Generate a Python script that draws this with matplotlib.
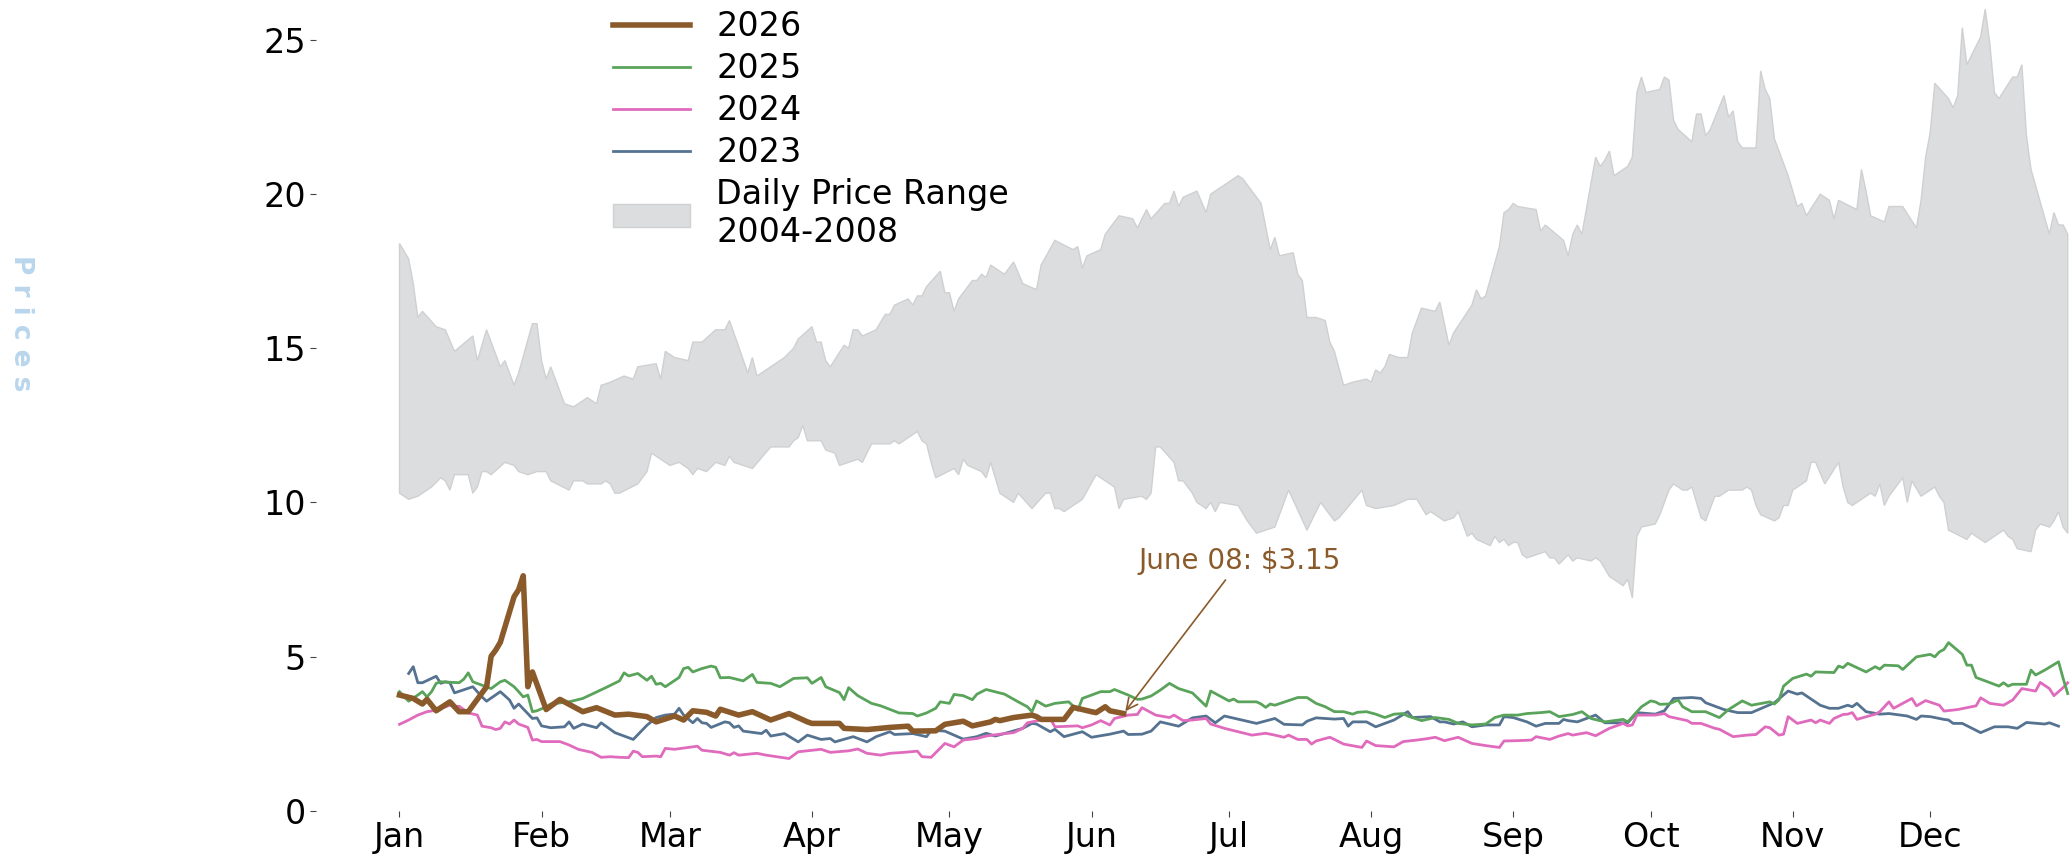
import matplotlib
matplotlib.use("Agg")
import matplotlib.pyplot as plt

# day-of-year (0 = Jan 1) and price readings

month_names = ["Jan", "Feb", "Mar", "Apr", "May", "Jun",
               "Jul", "Aug", "Sep", "Oct", "Nov", "Dec"]
month_starts = [0, 31, 59, 90, 120, 151, 181, 212, 243, 273, 304, 334]

# Daily price range 2004-2008 (upper and lower edge of the band)
band_hi_days = [0, 2, 3, 4, 5, 8, 10, 12, 16, 17, 19, 22, 23, 25, 26, 29, 30, 31, 32, 33,
                36, 38, 41, 43, 44, 46, 49, 51, 52, 56, 57, 58, 60, 63, 64, 66, 69, 71, 72, 76,
                77, 78, 82, 84, 86, 87, 90, 91, 92, 93, 94, 97, 98, 99, 100, 101, 104, 106, 107, 108,
                111, 112, 113, 114, 115, 118, 119, 120, 121, 122, 125, 126, 127, 128, 129, 132, 134, 136, 139, 140,
                143, 147, 148, 149, 150, 153, 154, 157, 160, 161, 163, 164, 167, 168, 169, 170, 171, 174, 176, 177,
                179, 181, 183, 184, 188, 190, 191, 192, 195, 196, 197, 198, 200, 202, 203, 204, 206, 208, 211, 212,
                213, 214, 215, 216, 218, 220, 221, 223, 226, 227, 228, 229, 230, 234, 235, 236, 237, 240, 241, 242,
                243, 244, 248, 249, 250, 254, 255, 256, 257, 258, 261, 262, 263, 264, 265, 268, 269, 270, 271, 272,
                275, 276, 277, 278, 279, 282, 283, 284, 285, 286, 289, 290, 291, 292, 293, 296, 297, 298, 299, 300,
                303, 305, 306, 307, 310, 312, 313, 314, 318, 319, 320, 321, 324, 325, 328, 331, 332, 333, 334, 335,
                338, 339, 340, 341, 342, 345, 346, 347, 348, 349, 352, 353, 354, 355, 356, 360, 361, 362, 363, 364]
band_hi = [18.4, 17.9, 17.1, 16.0, 16.2, 15.7, 15.6, 14.9, 15.4, 14.6, 15.6, 14.4, 14.6, 13.8, 14.2, 15.8, 15.8, 14.6, 14.0, 14.4,
           13.2, 13.1, 13.4, 13.2, 13.8, 13.9, 14.1, 14.0, 14.4, 14.5, 14.0, 14.9, 14.7, 14.6, 15.2, 15.2, 15.6, 15.6, 15.9, 14.2,
           14.7, 14.1, 14.5, 14.7, 15.0, 15.3, 15.7, 15.2, 15.2, 14.6, 14.4, 15.1, 15.0, 15.6, 15.6, 15.4, 15.6, 16.1, 16.1, 16.4,
           16.6, 16.4, 16.7, 16.7, 17.0, 17.5, 16.8, 16.8, 16.2, 16.6, 17.2, 17.2, 17.4, 17.3, 17.7, 17.4, 17.8, 17.1, 16.9, 17.7,
           18.5, 18.2, 18.3, 17.6, 18.0, 18.2, 18.7, 19.3, 19.2, 18.9, 19.5, 19.2, 19.7, 19.7, 20.1, 19.6, 19.9, 20.1, 19.4, 20.0,
           20.2, 20.4, 20.6, 20.5, 19.7, 18.2, 18.6, 18.0, 18.1, 17.4, 17.2, 16.0, 16.0, 15.9, 15.2, 14.9, 13.8, 13.9, 14.0, 13.9,
           14.3, 14.2, 14.4, 14.8, 14.7, 14.7, 15.5, 16.3, 16.2, 16.5, 15.8, 15.1, 15.5, 16.4, 16.9, 16.6, 16.7, 18.3, 19.4, 19.5,
           19.7, 19.6, 19.5, 18.8, 19.0, 18.5, 18.0, 18.7, 19.0, 18.7, 21.2, 20.9, 21.1, 21.4, 20.6, 20.9, 21.2, 23.3, 23.8, 23.3,
           23.4, 23.8, 23.7, 22.4, 22.1, 21.7, 22.6, 22.6, 21.9, 22.1, 23.2, 22.5, 22.7, 21.7, 21.5, 21.5, 24.0, 23.4, 23.1, 21.8,
           20.6, 19.6, 19.7, 19.3, 20.0, 19.8, 19.2, 19.8, 19.5, 20.8, 20.1, 19.3, 19.1, 19.6, 19.6, 18.9, 19.8, 21.2, 22.0, 23.6,
           23.1, 22.8, 23.2, 25.4, 24.2, 25.1, 26.0, 24.9, 23.3, 23.1, 23.8, 23.8, 24.2, 21.9, 20.8, 18.7, 19.4, 19.0, 19.0, 18.7]

band_lo_days = [0, 2, 4, 7, 9, 10, 11, 12, 15, 16, 17, 18, 19, 20, 23, 25, 26, 28, 30, 32,
                33, 37, 38, 40, 41, 44, 45, 46, 47, 48, 52, 54, 55, 56, 59, 61, 63, 64, 65, 67,
                69, 71, 72, 73, 77, 81, 85, 86, 87, 88, 89, 92, 93, 95, 96, 100, 101, 103, 107, 108,
                109, 112, 113, 114, 115, 116, 117, 121, 122, 123, 124, 127, 128, 129, 131, 134, 135, 138, 141, 142,
                143, 144, 145, 149, 152, 156, 157, 158, 162, 163, 164, 165, 166, 169, 170, 171, 173, 174, 176, 177,
                178, 179, 183, 185, 187, 191, 194, 198, 201, 204, 205, 210, 211, 213, 217, 220, 222, 224, 225, 228,
                230, 231, 233, 234, 235, 238, 239, 240, 241, 242, 243, 244, 245, 246, 250, 251, 252, 253, 255, 256,
                257, 260, 261, 262, 264, 267, 268, 269, 270, 271, 274, 275, 277, 278, 280, 281, 282, 284, 285, 287,
                288, 290, 293, 294, 295, 296, 297, 300, 301, 302, 303, 304, 307, 308, 309, 311, 314, 315, 316, 317,
                321, 322, 323, 324, 325, 328, 329, 330, 332, 335, 336, 337, 338, 342, 343, 346, 349, 350, 351, 352,
                353, 356, 357, 358, 360, 361, 362, 363, 364]
band_lo = [10.3, 10.1, 10.2, 10.5, 10.8, 10.7, 10.4, 10.9, 10.9, 10.3, 10.5, 11.0, 11.0, 10.9, 11.3, 11.2, 11.0, 10.9, 11.0, 11.0,
           10.7, 10.4, 10.7, 10.7, 10.6, 10.6, 10.7, 10.6, 10.3, 10.3, 10.6, 11.0, 11.6, 11.5, 11.2, 11.3, 11.1, 10.9, 11.1, 11.0,
           11.3, 11.2, 11.5, 11.3, 11.1, 11.8, 11.8, 12.0, 12.1, 12.5, 12.0, 12.0, 11.7, 11.6, 11.2, 11.4, 11.3, 11.9, 11.9, 12.0,
           11.9, 12.2, 12.3, 12.0, 11.9, 11.3, 10.8, 11.1, 10.9, 11.4, 11.2, 11.0, 10.8, 11.3, 10.3, 10.0, 10.3, 9.8, 10.3, 10.3,
           9.8, 9.8, 9.7, 10.1, 10.9, 10.5, 9.8, 10.1, 10.2, 10.1, 10.3, 11.8, 11.8, 11.3, 10.7, 10.7, 10.3, 10.0, 9.8, 10.0,
           9.7, 10.0, 9.9, 9.4, 9.0, 9.2, 10.4, 9.1, 10.0, 9.4, 9.5, 10.4, 9.9, 9.8, 9.9, 10.1, 10.1, 9.6, 9.7, 9.4,
           9.5, 9.7, 8.9, 9.0, 8.8, 8.6, 8.9, 8.7, 8.8, 8.6, 8.7, 8.7, 8.3, 8.2, 8.4, 8.2, 8.2, 8.0, 8.3, 8.1,
           8.2, 8.1, 8.2, 8.1, 7.6, 7.3, 7.5, 6.9, 8.9, 9.2, 9.3, 9.6, 10.4, 10.6, 10.4, 10.4, 10.5, 9.5, 9.4, 10.2,
           10.2, 10.4, 10.4, 10.5, 10.4, 9.9, 9.6, 9.4, 9.5, 9.9, 9.9, 10.4, 10.7, 11.3, 11.3, 10.6, 11.3, 10.5, 10.0, 9.9,
           10.3, 10.2, 10.6, 9.9, 10.2, 10.8, 10.0, 10.7, 10.2, 10.5, 10.2, 10.0, 9.1, 8.8, 9.0, 8.7, 9.0, 9.1, 8.9, 8.8,
           8.5, 8.4, 9.1, 9.3, 9.2, 9.4, 9.7, 9.2, 9.0]

days_2026 = [0, 3, 5, 6, 8, 11, 13, 15, 19, 20, 21, 22, 25, 26, 27, 28, 29, 32, 35, 40,
             43, 47, 50, 54, 56, 60, 62, 64, 67, 69, 70, 74, 77, 81, 85, 89, 90, 96, 97, 102,
             107, 111, 112, 117, 119, 123, 125, 129, 130, 131, 134, 138, 139, 140, 145, 147, 151, 152, 154, 155,
             158]
price_2026 = [3.75, 3.64, 3.46, 3.61, 3.24, 3.53, 3.21, 3.21, 4.02, 5.01, 5.21, 5.46, 6.94, 7.17, 7.62, 4.02, 4.50, 3.28, 3.61, 3.21,
              3.34, 3.10, 3.13, 3.05, 2.88, 3.07, 2.94, 3.24, 3.19, 3.07, 3.29, 3.10, 3.21, 2.94, 3.15, 2.88, 2.83, 2.83, 2.67, 2.63,
              2.70, 2.74, 2.58, 2.59, 2.80, 2.90, 2.75, 2.88, 2.96, 2.92, 3.02, 3.10, 3.05, 2.96, 2.96, 3.35, 3.21, 3.18, 3.37, 3.24,
              3.15]

days_2025 = [0, 2, 4, 5, 6, 7, 8, 9, 13, 14, 15, 16, 18, 20, 22, 23, 25, 26, 27, 28,
             29, 30, 32, 33, 37, 40, 42, 45, 48, 49, 50, 52, 54, 55, 56, 57, 58, 61, 62, 63,
             64, 66, 68, 69, 70, 72, 75, 77, 78, 81, 83, 86, 89, 90, 92, 93, 96, 97, 98, 100,
             103, 105, 109, 112, 113, 115, 117, 118, 120, 121, 123, 125, 126, 128, 132, 135, 137, 138, 139, 141,
             143, 146, 148, 149, 153, 155, 156, 159, 161, 162, 164, 166, 168, 170, 173, 176, 177, 181, 182, 183,
             187, 188, 189, 190, 191, 196, 198, 200, 202, 204, 206, 208, 209, 211, 213, 215, 217, 219, 220, 223,
             226, 229, 231, 234, 237, 239, 241, 244, 246, 249, 251, 253, 256, 258, 260, 263, 267, 268, 270, 271,
             273, 274, 275, 277, 279, 280, 282, 285, 288, 290, 293, 295, 298, 299, 300, 301, 302, 304, 307, 308,
             309, 313, 314, 315, 316, 320, 322, 323, 324, 327, 328, 331, 334, 335, 336, 337, 338, 341, 342, 343,
             344, 346, 349, 350, 351, 352, 355, 356, 357, 359, 362, 363, 364]
price_2025 = [3.86, 3.55, 3.75, 3.86, 3.69, 3.86, 4.13, 4.18, 4.15, 4.26, 4.47, 4.18, 4.07, 3.96, 4.18, 4.23, 4.02, 3.86, 3.69, 3.75,
              3.21, 3.24, 3.37, 3.46, 3.53, 3.64, 3.78, 3.99, 4.21, 4.47, 4.37, 4.45, 4.23, 4.36, 4.10, 4.13, 4.02, 4.32, 4.61, 4.65,
              4.50, 4.61, 4.69, 4.65, 4.31, 4.32, 4.21, 4.42, 4.16, 4.13, 4.02, 4.29, 4.31, 4.13, 4.32, 4.02, 3.83, 3.60, 3.99, 3.73,
              3.48, 3.40, 3.17, 3.15, 3.07, 3.17, 3.32, 3.53, 3.48, 3.77, 3.73, 3.60, 3.78, 3.93, 3.78, 3.53, 3.37, 3.21, 3.56, 3.39,
              3.48, 3.53, 3.26, 3.64, 3.86, 3.86, 3.93, 3.75, 3.61, 3.62, 3.72, 3.91, 4.13, 3.96, 3.82, 3.39, 3.88, 3.56, 3.62, 3.53,
              3.53, 3.46, 3.35, 3.46, 3.42, 3.67, 3.67, 3.48, 3.37, 3.21, 3.21, 3.13, 3.19, 3.21, 3.13, 3.02, 3.13, 3.15, 3.07, 2.92,
              3.02, 2.96, 2.83, 2.78, 2.81, 3.02, 3.10, 3.10, 3.15, 3.18, 3.21, 3.05, 3.12, 3.21, 2.99, 2.88, 2.96, 2.88, 3.21, 3.37,
              3.56, 3.53, 3.45, 3.46, 3.59, 3.37, 3.21, 3.21, 3.02, 3.28, 3.56, 3.42, 3.50, 3.53, 3.46, 3.59, 4.04, 4.29, 4.43, 4.36,
              4.50, 4.48, 4.69, 4.64, 4.78, 4.50, 4.67, 4.59, 4.72, 4.70, 4.58, 4.99, 5.07, 4.99, 5.15, 5.23, 5.45, 5.07, 4.72, 4.72,
              4.32, 4.21, 4.04, 4.15, 4.04, 4.10, 4.10, 4.56, 4.40, 4.56, 4.83, 4.29, 3.80]

days_2024 = [0, 2, 4, 6, 8, 11, 12, 13, 15, 17, 18, 20, 21, 22, 23, 24, 25, 26, 28, 29,
             30, 31, 35, 37, 39, 42, 44, 46, 48, 50, 51, 52, 53, 56, 57, 58, 60, 65, 66, 70,
             72, 73, 74, 78, 80, 85, 87, 90, 92, 94, 98, 100, 102, 105, 107, 110, 113, 114, 116, 119,
             121, 123, 126, 128, 131, 134, 136, 137, 140, 142, 143, 148, 149, 151, 153, 155, 156, 159, 161, 162,
             165, 168, 169, 171, 173, 176, 177, 180, 183, 186, 189, 191, 193, 194, 196, 198, 199, 200, 203, 204,
             206, 210, 211, 213, 217, 219, 222, 224, 226, 228, 231, 234, 237, 240, 241, 244, 247, 248, 251, 253,
             255, 256, 259, 261, 264, 267, 268, 269, 270, 274, 276, 277, 281, 282, 284, 287, 288, 290, 291, 294,
             296, 298, 299, 301, 302, 303, 305, 308, 309, 310, 312, 313, 315, 316, 317, 318, 322, 323, 325, 326,
             330, 331, 333, 336, 337, 340, 344, 345, 347, 350, 352, 354, 357, 358, 360, 361, 363, 364]
price_2024 = [2.80, 2.94, 3.10, 3.21, 3.26, 3.42, 3.37, 3.39, 3.17, 3.10, 2.74, 2.69, 2.63, 2.67, 2.88, 2.81, 2.94, 2.81, 2.70, 2.29,
              2.31, 2.24, 2.24, 2.13, 1.99, 1.89, 1.73, 1.75, 1.73, 1.72, 1.93, 1.89, 1.75, 1.77, 1.75, 2.02, 1.99, 2.09, 1.96, 1.89,
              1.80, 1.88, 1.80, 1.86, 1.80, 1.69, 1.91, 1.96, 1.99, 1.89, 1.94, 2.00, 1.86, 1.80, 1.86, 1.89, 1.93, 1.75, 1.73, 2.18,
              2.07, 2.29, 2.34, 2.42, 2.48, 2.53, 2.67, 2.85, 2.94, 2.99, 2.72, 2.75, 2.69, 2.78, 2.92, 2.78, 2.99, 3.10, 3.12, 3.34,
              3.10, 3.02, 3.10, 2.92, 2.94, 2.99, 2.81, 2.67, 2.56, 2.45, 2.51, 2.45, 2.38, 2.45, 2.31, 2.31, 2.16, 2.26, 2.38, 2.31,
              2.16, 2.05, 2.26, 2.11, 2.07, 2.24, 2.29, 2.33, 2.38, 2.27, 2.38, 2.18, 2.11, 2.05, 2.26, 2.27, 2.29, 2.40, 2.31, 2.42,
              2.50, 2.45, 2.53, 2.43, 2.67, 2.83, 2.75, 2.78, 3.10, 3.10, 3.15, 3.05, 2.92, 2.83, 2.83, 2.67, 2.64, 2.48, 2.40, 2.45,
              2.47, 2.72, 2.69, 2.45, 2.48, 3.05, 2.83, 2.94, 2.85, 2.94, 2.83, 2.99, 3.12, 3.13, 3.18, 2.96, 3.13, 3.21, 3.53, 3.32,
              3.64, 3.40, 3.57, 3.42, 3.23, 3.28, 3.40, 3.66, 3.48, 3.42, 3.59, 3.96, 3.88, 4.16, 3.96, 3.73, 3.99, 4.15]

days_2023 = [2, 3, 4, 5, 8, 9, 10, 11, 12, 16, 18, 19, 22, 24, 25, 26, 29, 30, 31, 33,
             36, 37, 38, 40, 43, 44, 47, 51, 54, 56, 58, 60, 61, 62, 64, 65, 66, 67, 68, 71,
             72, 73, 74, 75, 79, 80, 81, 84, 87, 89, 92, 94, 95, 99, 102, 104, 107, 108, 112, 115,
             116, 119, 121, 123, 126, 128, 130, 136, 138, 139, 142, 143, 145, 149, 151, 155, 158, 159, 162, 164,
             166, 170, 173, 176, 178, 180, 187, 191, 193, 197, 198, 200, 204, 206, 207, 208, 211, 213, 215, 217,
             220, 221, 225, 227, 228, 230, 232, 234, 237, 240, 241, 243, 246, 248, 250, 253, 254, 255, 257, 261,
             263, 268, 270, 274, 276, 278, 282, 284, 285, 289, 292, 295, 298, 300, 303, 305, 306, 310, 312, 314,
             316, 317, 318, 320, 323, 325, 329, 331, 332, 334, 337, 338, 339, 341, 345, 348, 351, 353, 355, 359,
             360, 362]
price_2023 = [4.45, 4.67, 4.15, 4.15, 4.36, 4.13, 4.18, 4.15, 3.82, 4.02, 3.69, 3.55, 3.86, 3.59, 3.32, 3.46, 2.99, 3.01, 2.75, 2.69,
              2.72, 2.88, 2.67, 2.81, 2.69, 2.85, 2.53, 2.31, 2.77, 3.02, 3.10, 3.13, 3.32, 3.10, 2.85, 2.99, 2.85, 2.83, 2.70, 2.88,
              2.85, 2.70, 2.75, 2.58, 2.50, 2.61, 2.42, 2.50, 2.23, 2.45, 2.31, 2.34, 2.23, 2.40, 2.23, 2.40, 2.56, 2.47, 2.50, 2.40,
              2.61, 2.58, 2.45, 2.32, 2.40, 2.51, 2.42, 2.67, 2.83, 2.81, 2.56, 2.64, 2.40, 2.56, 2.38, 2.48, 2.58, 2.47, 2.48, 2.58,
              2.88, 2.74, 3.01, 3.07, 2.85, 3.07, 2.83, 2.99, 2.80, 2.78, 2.90, 3.01, 2.97, 2.99, 2.74, 2.88, 2.88, 2.72, 2.83, 2.94,
              3.21, 3.02, 3.05, 2.88, 2.88, 2.81, 2.88, 2.72, 2.78, 2.78, 3.05, 3.02, 2.88, 2.74, 2.83, 2.83, 2.96, 2.92, 2.88, 3.10,
              2.85, 2.85, 3.18, 3.13, 3.24, 3.64, 3.67, 3.64, 3.50, 3.28, 3.18, 3.18, 3.37, 3.50, 3.88, 3.78, 3.82, 3.42, 3.32, 3.32,
              3.42, 3.37, 3.48, 3.21, 3.13, 3.15, 3.07, 2.96, 3.07, 3.05, 2.96, 2.94, 2.83, 2.83, 2.53, 2.72, 2.72, 2.67, 2.86, 2.81,
              2.85, 2.74]

last_day = 158
last_price = 3.15

c2026 = "#8b5a2b"
c2025 = "#59a35a"
c2024 = "#e06bbd"
c2023 = "#557391"

fig = plt.figure(figsize=(20.7, 8.57), dpi=100)
ax = fig.add_axes([0.1527, 0.0541, 0.8473, 0.9459])

# shaded historic band: upper edge forward, lower edge back
band_x = band_hi_days + band_lo_days[::-1]
band_y = band_hi + band_lo[::-1]
band = ax.fill(band_x, band_y, facecolor="#dcdddf", edgecolor="#cfd0d2", linewidth=1,
               label="Daily Price Range\n2004-2008")[0]

l23, = ax.plot(days_2023, price_2023, color=c2023, lw=2, label="2023")
l24, = ax.plot(days_2024, price_2024, color=c2024, lw=2, label="2024")
l25, = ax.plot(days_2025, price_2025, color=c2025, lw=2, label="2025")
l26, = ax.plot(days_2026, price_2026, color=c2026, lw=4, label="2026")

ax.annotate("June 08: $%.2f" % last_price, xy=(last_day, last_price), xytext=(183.4, 8.1),
            ha="center", va="center", fontsize=20, color=c2026,
            arrowprops=dict(arrowstyle="->", color=c2026, lw=1.2))

ax.set_xlim(-18.2, 364.5)
ax.set_ylim(0, 26.3)
ax.set_xticks(month_starts)
ax.set_xticklabels(month_names)
ax.set_yticks([0, 5, 10, 15, 20, 25])
ax.tick_params(labelsize=24, length=4, color="#444444")
for s in ax.spines.values():
    s.set_visible(False)

fig.legend(handles=[l26, l25, l24, l23, band], loc="upper left",
           bbox_to_anchor=(0.2817, 1.023), frameon=False, fontsize=24,
           handlelength=2.3, labelspacing=0.27)

fig.text(0.0101, 0.623, "P r i c e s", rotation=-90, ha="center", va="center",
         fontsize=19, fontweight="bold", color="#b9d6ec")

fig.savefig("out.png", dpi=100)
